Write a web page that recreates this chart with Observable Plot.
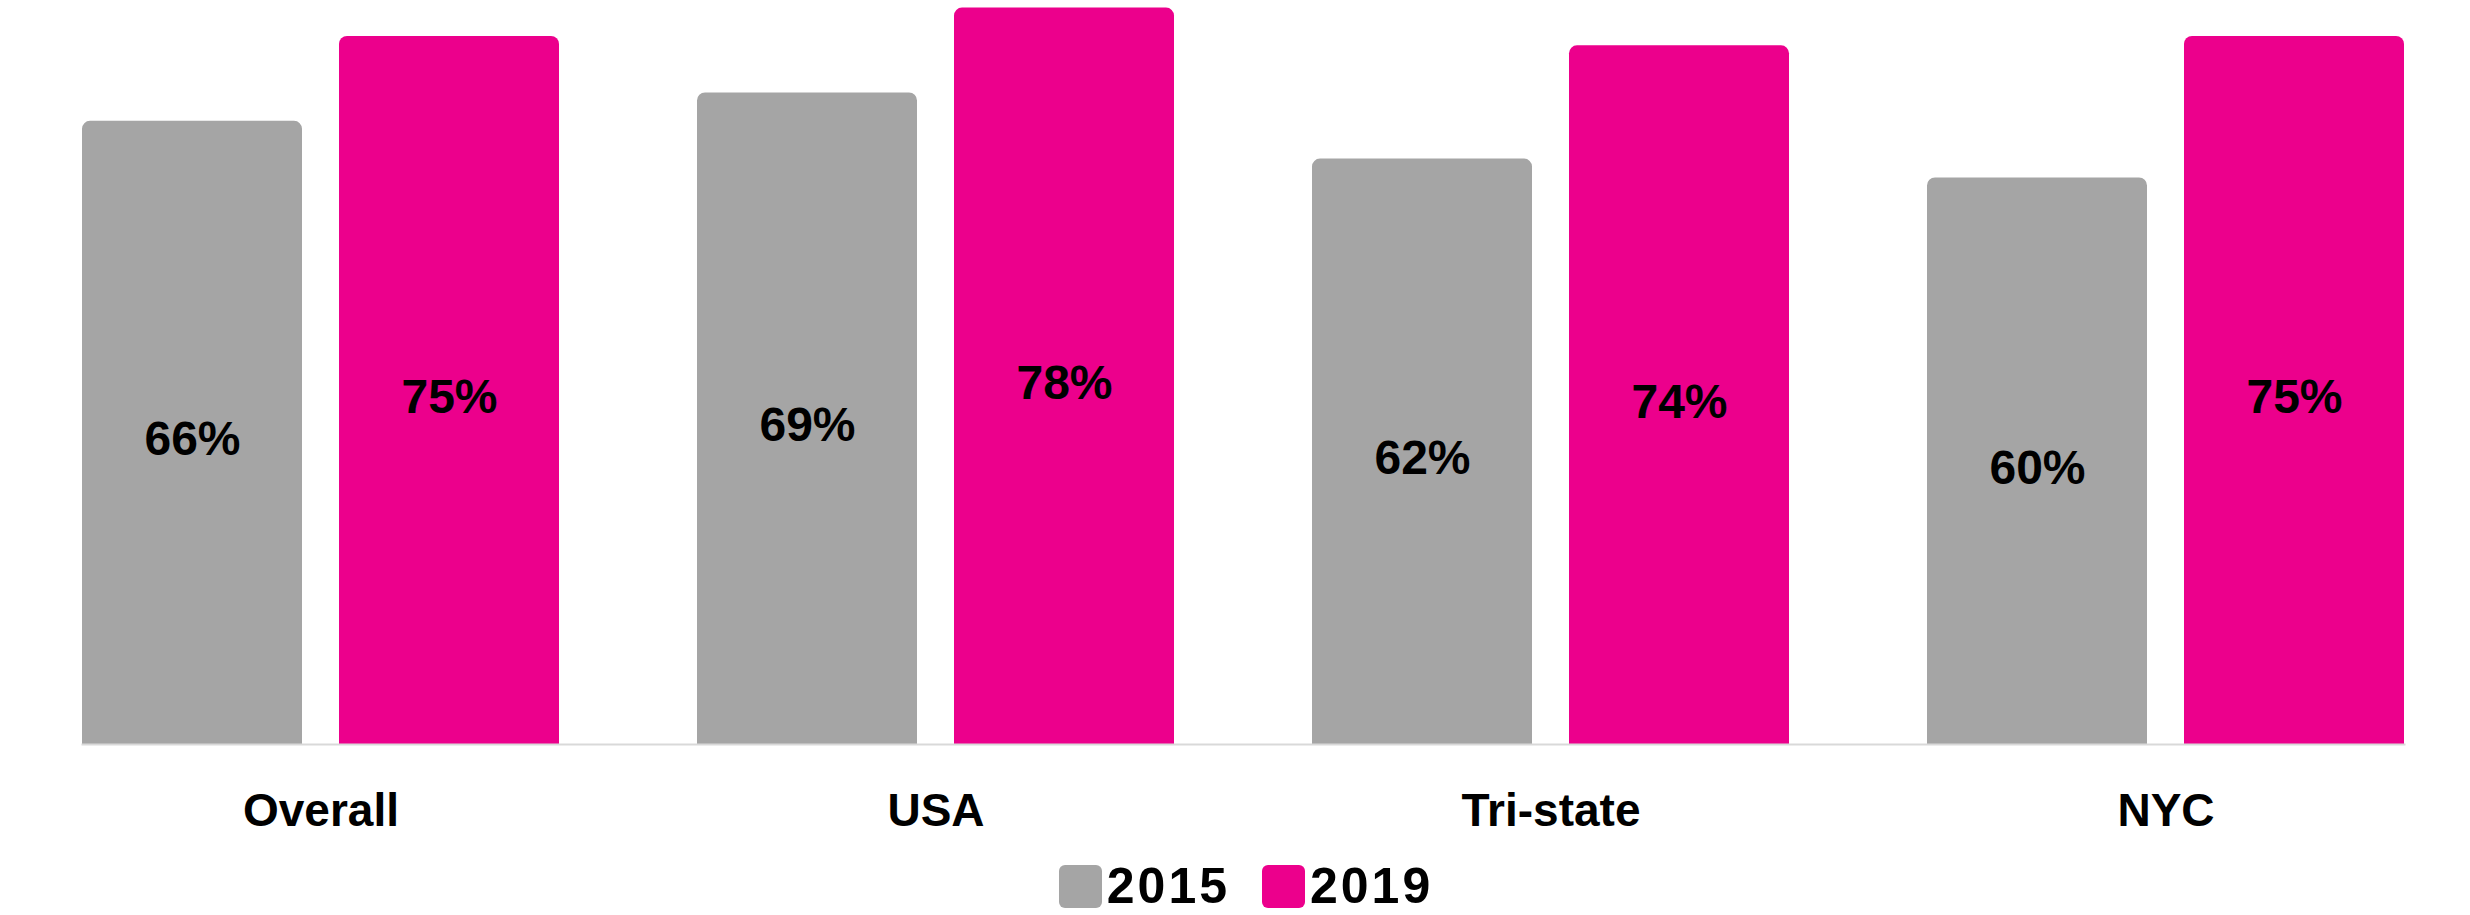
<!DOCTYPE html>
<html>
<head>
<meta charset="utf-8">
<script src="https://cdn.jsdelivr.net/npm/d3@7"></script>
<script src="https://cdn.jsdelivr.net/npm/@observablehq/plot@0.6"></script>
<style>
  html, body { margin: 0; padding: 0; background: #fff; }
  body { width: 2470px; height: 915px; overflow: hidden; font-family: "Liberation Sans", Arial, sans-serif; }
  #chart svg { display: block; }
  #legend { display: flex; justify-content: center; align-items: center; margin-top: 3px; padding-left: 22px; }
  .item { display: flex; align-items: center; margin: 0 16px; }
  .sw { width: 43px; height: 43px; border-radius: 6px; margin-right: 5px; }
  .lab { font-size: 50px; line-height: 43px; font-weight: bold; color: #000; letter-spacing: 3px; }
</style>
</head>
<body>
<div id="chart"></div>
<div id="legend"></div>
<script>
const categories = ["Overall", "USA", "Tri-state", "NYC"];
const years = ["2015", "2019"];
const values2015 = [66, 69, 62, 60];
const values2019 = [75, 78, 74, 75];
const colors = ["#A5A5A5", "#EC008C"];

const rows = [];
categories.forEach((c, i) => {
  rows.push({category: c, year: years[0], value: values2015[i]});
  rows.push({category: c, year: years[1], value: values2019[i]});
});

const chart = Plot.plot({
  width: 2470,
  height: 862,
  marginLeft: 13,
  marginRight: -3,
  marginTop: 0,
  marginBottom: 118,
  style: {fontFamily: "'Liberation Sans', Arial, sans-serif", background: "#fff", color: "#000"},
  fx: {domain: categories, paddingInner: 0.224, paddingOuter: 0.112},
  x: {domain: years, paddingInner: 0.144, paddingOuter: 0, axis: null},
  y: {domain: [0, 78.8], axis: null},
  color: {domain: years, range: colors},
  marks: [
    Plot.barY(rows, {fx: "category", x: "year", y: "value", fill: "year", ry1: 8}),
    Plot.text(rows, {fx: "category", x: "year", y: d => d.value / 2, text: d => d.value + "%",
      fontSize: 48, fontWeight: "bold", fill: "#000", dy: 7}),
    Plot.frame({anchor: "bottom", facet: "super", stroke: "#D9D9D9", strokeWidth: 2}),
    Plot.axisFx({anchor: "bottom", tickSize: 0, tickPadding: 49, fontSize: 46, fontWeight: "bold", fill: "#000", label: null})
  ]
});
document.getElementById("chart").appendChild(chart);

const legend = document.getElementById("legend");
years.forEach((y, i) => {
  const item = document.createElement("div");
  item.className = "item";
  const sw = document.createElement("div");
  sw.className = "sw";
  sw.style.background = colors[i];
  const lab = document.createElement("span");
  lab.className = "lab";
  lab.textContent = y;
  item.appendChild(sw);
  item.appendChild(lab);
  legend.appendChild(item);
});
</script>
</body>
</html>
